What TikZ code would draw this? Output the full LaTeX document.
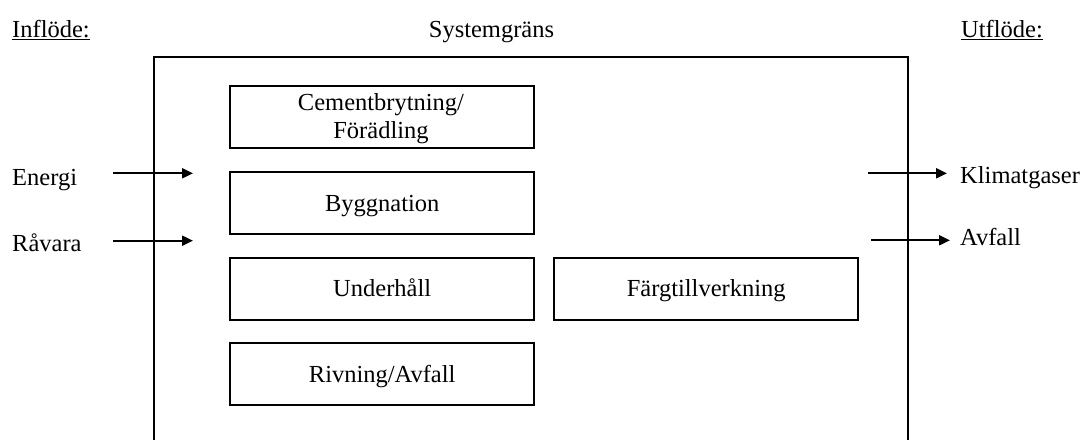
\documentclass[tikz,border=0pt]{standalone}
\usepackage{fontspec}
\setmainfont{Liberation Serif}
\usetikzlibrary{arrows.meta}
\begin{document}
\begin{tikzpicture}[x=1pt,y=-1pt,
  procbox/.style={draw,line width=2.4pt,minimum width=304pt,minimum height=62pt,inner sep=0pt,align=center,anchor=north west,text height=17pt,text depth=1pt},
  lbl/.style={inner sep=0pt,anchor=base west},
  flow/.style={line width=2pt,-{Triangle[length=11pt,width=10pt]}},
  every node/.style={font=\fontsize{24.5}{28}\selectfont}]
\useasboundingbox (0,0) rectangle (1081,439);
\begin{scope}
\clip (0,0) rectangle (1081,439);
\draw[line width=2.6pt] (154,445) -- (154,57) -- (908,57) -- (908,445);
\end{scope}
\node[lbl] (in) at (12,37) {\underline{Inflöde:}};
\node[lbl] (ut) at (961,37) {\underline{Utflöde:}};
\node[inner sep=0pt,anchor=base] (sg) at (491.5,37) {Systemgräns};
\node[procbox,text height=,text depth=] (cem) at (229,85) {};
\node[inner sep=0pt,align=center,anchor=base] (cemt) at (381,138) {Cementbrytning/\\Förädling};
\node[procbox] (bygg) at (229,171) {Byggnation};
\node[procbox] (und) at (229,256.5) {Underhåll};
\node[procbox] (riv) at (229,342) {Rivning/Avfall};
\node[procbox] (farg) at (553,256.5) {Färgtillverkning};
\node[lbl] (en) at (12,185) {Energi};
\node[lbl] (rv) at (12,251) {Råvara};
\node[lbl] (kl) at (960,183.5) {Klimatgaser};
\node[lbl] (av) at (960,245) {Avfall};
\coordinate (enS) at (113,173.3);
\coordinate (enE) at (193,173.3);
\coordinate (rvS) at (113,240.7);
\coordinate (rvE) at (193,240.7);
\coordinate (klS) at (868,173.3);
\coordinate (klE) at (947,173.3);
\coordinate (avS) at (871,240.3);
\coordinate (avE) at (950,240.3);
\draw[flow] (enS) -- (enE);
\draw[flow] (rvS) -- (rvE);
\draw[flow] (klS) -- (klE);
\draw[flow] (avS) -- (avE);
\end{tikzpicture}
\end{document}
